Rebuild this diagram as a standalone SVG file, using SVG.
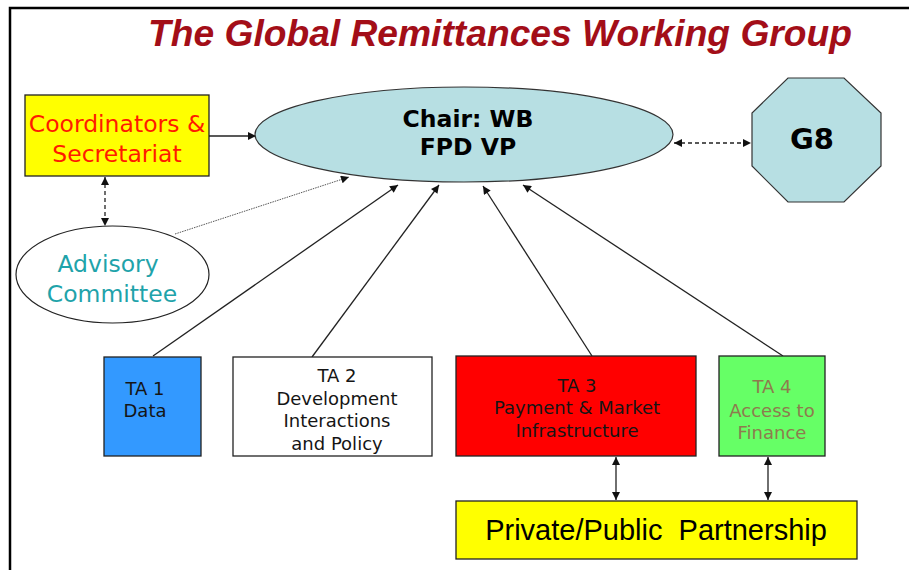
<svg xmlns="http://www.w3.org/2000/svg" width="909" height="570" viewBox="0 0 909 570">
  <style>
    .box { stroke: #222; stroke-width: 1.3; }
    .teal { fill: #B7DFE3; stroke: #333; stroke-width: 1.2; }
    .v { font-family: "DejaVu Sans", Verdana, sans-serif; text-anchor: middle; }
    .ta { font-size: 18px; fill: #151515; }
    .ta.olive { fill: #8E7B4E; }
    .conn { stroke: #222; stroke-width: 1.3; fill: none; }
    .dash { stroke-dasharray: 4 3; }
  </style>
  <defs>
    <marker id="ah" viewBox="0 0 10 10" refX="10" refY="5" markerWidth="9" markerHeight="8" markerUnits="userSpaceOnUse" orient="auto-start-reverse">
      <path d="M0,0 L10,5 L0,10 z" fill="#111"/>
    </marker>
  </defs>

  <rect width="909" height="570" fill="#fff"/>
  <!-- slide frame -->
  <path d="M10,570 V8 H909" fill="none" stroke="#000" stroke-width="2.5"/>

  <text x="500" y="46" text-anchor="middle" font-family="'Liberation Sans', Arial, sans-serif" font-weight="bold" font-style="italic" font-size="37" fill="#A30E18" textLength="704" lengthAdjust="spacingAndGlyphs">The Global Remittances Working Group</text>

  <!-- connectors -->
  <g id="connectors">
    <line class="conn" x1="209" y1="136" x2="256" y2="136" marker-end="url(#ah)"/>
    <line class="conn dash" x1="674" y1="143" x2="751" y2="143" marker-start="url(#ah)" marker-end="url(#ah)"/>
    <line class="conn dash" x1="105" y1="177" x2="105" y2="226" marker-start="url(#ah)" marker-end="url(#ah)"/>
    <line x1="175" y1="234" x2="349" y2="177" stroke="#555" stroke-width="1" stroke-dasharray="1.5 1" marker-end="url(#ah)"/>
    <line class="conn" x1="153" y1="356" x2="398" y2="185" marker-end="url(#ah)"/>
    <line class="conn" x1="312" y1="357" x2="439" y2="185" marker-end="url(#ah)"/>
    <line class="conn" x1="592" y1="356" x2="483" y2="186" marker-end="url(#ah)"/>
    <line class="conn" x1="783" y1="356" x2="523" y2="185" marker-end="url(#ah)"/>
    <line class="conn" x1="616" y1="457" x2="616" y2="500" stroke="#444" marker-start="url(#ah)" marker-end="url(#ah)"/>
    <line class="conn" x1="768" y1="457" x2="768" y2="500" marker-start="url(#ah)" marker-end="url(#ah)"/>
  </g>

  <g id="coordinators">
    <rect class="box" x="25" y="95" width="184" height="81" fill="#FFFF00"/>
    <text class="v" x="117" y="132" font-size="23.5" fill="#FF1A00">Coordinators &amp;</text>
    <text class="v" x="117" y="162" font-size="23.5" fill="#FF1A00">Secretariat</text>
  </g>

  <g id="chair">
    <ellipse class="teal" cx="464" cy="134.5" rx="209" ry="47.5"/>
    <text class="v" x="468" y="127" font-size="23.5" font-weight="bold" fill="#000">Chair: WB</text>
    <text class="v" x="468" y="155" font-size="23.5" font-weight="bold" fill="#000">FPD VP</text>
  </g>

  <g id="g8">
    <polygon class="teal" points="788,78 844,78 881,113 881,166 844,202 788,202 752,166 752,113"/>
    <text class="v" x="812" y="149" font-size="29" font-weight="bold" fill="#000">G8</text>
  </g>

  <g id="advisory">
    <ellipse cx="112.5" cy="274.5" rx="96.5" ry="48.5" fill="#fff" stroke="#222" stroke-width="1.2"/>
    <text class="v" x="108" y="272" font-size="23.5" fill="#1FA3AA">Advisory</text>
    <text class="v" x="112" y="302" font-size="23.5" fill="#1FA3AA">Committee</text>
  </g>

  <g id="ta1">
    <rect class="box" x="104" y="357" width="97" height="99" fill="#3399FF"/>
    <text class="v ta" x="145" y="395">TA 1</text>
    <text class="v ta" x="145" y="417">Data</text>
  </g>

  <g id="ta2">
    <rect class="box" x="233" y="357" width="199" height="99" fill="#fff"/>
    <text class="v ta" x="337" y="382">TA 2</text>
    <text class="v ta" x="337" y="405">Development</text>
    <text class="v ta" x="337" y="427">Interactions</text>
    <text class="v ta" x="337" y="450">and Policy</text>
  </g>

  <g id="ta3">
    <rect class="box" x="456" y="356" width="240" height="100" fill="#FF0000"/>
    <text class="v ta" x="577" y="392">TA 3</text>
    <text class="v ta" x="577" y="414">Payment &amp; Market</text>
    <text class="v ta" x="577" y="437">Infrastructure</text>
  </g>

  <g id="ta4">
    <rect class="box" x="719" y="356" width="106" height="100" fill="#66FF66"/>
    <text class="v ta olive" x="772" y="393">TA 4</text>
    <text class="v ta olive" x="772" y="417">Access to</text>
    <text class="v ta olive" x="772" y="439">Finance</text>
  </g>

  <g id="partnership">
    <rect class="box" x="456" y="501" width="401" height="58" fill="#FFFF00"/>
    <text x="656" y="540" text-anchor="middle" xml:space="preserve" font-family="'Liberation Sans', Arial, sans-serif" font-size="29" fill="#000">Private/Public  Partnership</text>
  </g>
</svg>
